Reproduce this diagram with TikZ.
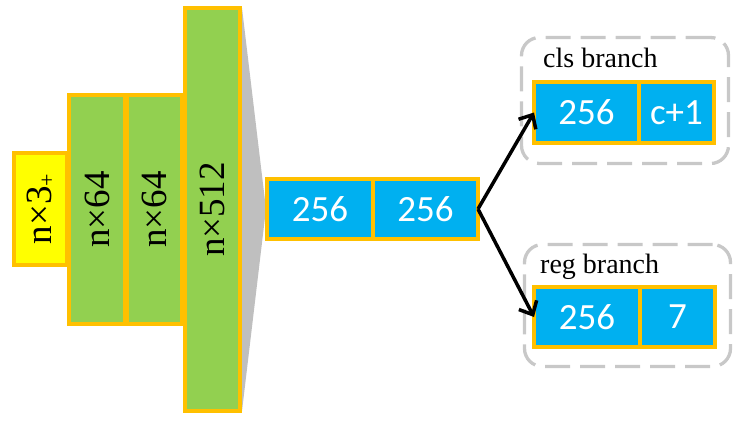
\documentclass[tikz,border=0pt]{standalone}
\usepackage{fontspec}
\setmainfont{Liberation Serif}
\newfontfamily\numfont{Carlito}
\usetikzlibrary{arrows.meta}
\definecolor{bord}{HTML}{FFC000}
\definecolor{cyellow}{HTML}{FFFF00}
\definecolor{cgreen}{HTML}{92D050}
\definecolor{cblue}{HTML}{00B0F0}
\definecolor{tgray}{HTML}{BFBFBF}
\definecolor{dgray}{HTML}{C8C8C8}
\begin{document}
\begin{tikzpicture}[x=1pt,y=-1pt,
  box/.style={draw=bord, line width=4pt, inner sep=0pt, outer sep=0pt, rectangle},
  rbox/.style={box, rotate=90, font=\fontsize{37}{37}\selectfont},
  bbox/.style={box, fill=cblue, text=white, font=\numfont\fontsize{37}{37}\selectfont},
  branch/.style={draw=dgray, line width=3.3pt, dash pattern=on 25pt off 10pt, rounded corners=18pt, rectangle, inner sep=0pt, outer sep=0pt},
  lbl/.style={font=\fontsize{28}{28}\selectfont, anchor=base west, inner sep=0pt},
  arr/.style={line width=3.5pt, -{Straight Barb[length=11pt,width=20pt]}}
]
\useasboundingbox (0,0) rectangle (747,421);
% branch groups
\node[branch, minimum width=207pt, minimum height=126pt] (clsg) at (625,100.5) {};
\node[branch, minimum width=206pt, minimum height=122pt] (regg) at (627.5,305.5) {};
\node[lbl] (clsl) at (543,67) {cls branch};
\node[lbl] (regl) at (540,273) {reg branch};
% gray funnel
\fill[tgray] (242,8) -- (266,209) -- (242,411) -- cycle;
% encoder boxes
\node[rbox, fill=cyellow, minimum width=112pt, minimum height=53pt] (inp) at (40.5,209) {n×3{\fontsize{22}{22}\selectfont\raisebox{-3pt}{+}}};
\node[rbox, fill=cgreen, minimum width=229pt, minimum height=56pt] (g1) at (97,209.5) {n×64};
\node[rbox, fill=cgreen, minimum width=229pt, minimum height=55pt] (g2) at (154.5,209.5) {n×64};
\node[rbox, fill=cgreen, minimum width=403pt, minimum height=55pt] (g3) at (212.5,209.5) {n×512};
% middle
\node[bbox, minimum width=106pt, minimum height=60pt] (m1) at (320,209) {256};
\node[bbox, minimum width=105pt, minimum height=60pt] (m2) at (425.5,209) {256};
% cls
\node[bbox, minimum width=105pt, minimum height=61pt] (c1) at (586.5,112.5) {256};
\node[bbox, minimum width=75pt, minimum height=61pt] (c2) at (676.5,112.5) {c+1};
% reg
\node[bbox, minimum width=106pt, minimum height=60pt] (r1) at (587,317) {256};
\node[bbox, minimum width=75pt, minimum height=60pt] (r2) at (677.5,317) {7};
% arrows
\draw[arr] (m2.east) -- (c1.west);
\draw[arr] (m2.east) -- (r1.west);
\end{tikzpicture}
\end{document}
